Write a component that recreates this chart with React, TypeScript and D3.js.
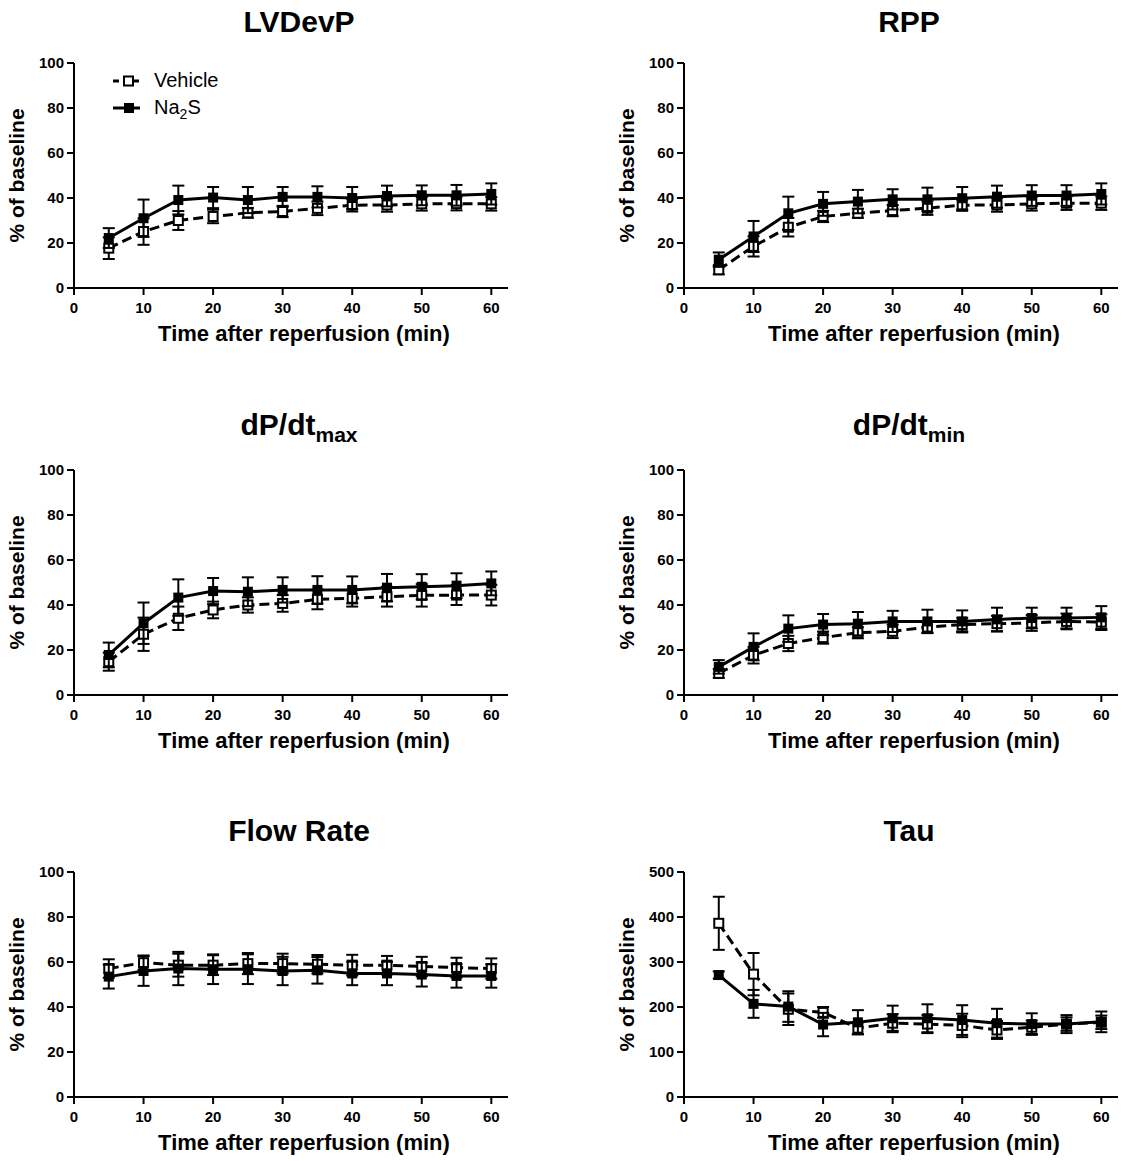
import React from "react";
import * as d3 from "d3";

// time points (min after reperfusion)
const times = [5, 10, 15, 20, 25, 30, 35, 40, 45, 50, 55, 60];
const xTicks = [0, 10, 20, 30, 40, 50, 60];
const pctTicks = [0, 20, 40, 60, 80, 100];
const tauTicks = [0, 100, 200, 300, 400, 500];

// LVDevP
const lvdevpVehicle = [17.7, 25.1, 30, 31.8, 33.4, 34, 35.4, 36.8, 36.9, 37.4, 37.5, 37.4];
const lvdevpVehicleErr = [4.8, 5.9, 4.2, 3, 2.2, 2.5, 3, 2.8, 3, 3, 3, 3];
const lvdevpNa2s = [22.2, 31, 39.1, 40.2, 39.1, 40.5, 40.5, 40, 40.9, 41.2, 41.2, 41.8];
const lvdevpNa2sErr = [4.4, 8.3, 6.4, 4.7, 5.8, 4.4, 4.7, 4.9, 4.6, 4.4, 4.6, 4.7];

// RPP
const rppVehicle = [8.1, 18.5, 27, 31.8, 33.2, 34.4, 35.5, 36.8, 36.9, 37.4, 37.7, 37.7];
const rppVehicleErr = [2, 4.5, 4.1, 2.5, 2, 2.5, 3, 2.5, 3, 3, 3, 3];
const rppNa2s = [12.6, 22.9, 33.2, 37.4, 38.4, 39.4, 39.4, 39.9, 40.6, 41.1, 41.1, 41.8];
const rppNa2sErr = [3.2, 6.9, 7.4, 5.3, 5.2, 4.5, 5.2, 5, 4.9, 4.6, 4.6, 4.7];

// dP/dt max
const dpmaxVehicle = [14.8, 27, 34.1, 37.8, 40, 40.7, 42.5, 43, 43.7, 44.3, 44.4, 44.4];
const dpmaxVehicleErr = [4, 7.4, 5.2, 3.7, 3.4, 3.7, 4.4, 3.7, 4.4, 5, 4.4, 4.6];
const dpmaxNa2s = [17.8, 31.9, 43.3, 46.2, 45.9, 46.7, 46.7, 46.7, 47.7, 48.1, 48.6, 49.6];
const dpmaxNa2sErr = [5.5, 9.2, 8.1, 5.8, 6.4, 5.6, 6.1, 6, 6.1, 5.6, 5.5, 5.3];

// dP/dt min
const dpminVehicle = [9.6, 17.7, 22.9, 25.5, 27.7, 28.3, 30.2, 31.3, 31.7, 32, 32.7, 32.4];
const dpminVehicleErr = [2, 3.7, 3.4, 2.7, 2.5, 3, 2.5, 3, 3.5, 3.5, 3.5, 3.5];
const dpminNa2s = [12.5, 21.4, 29.5, 31.3, 31.7, 32.7, 32.7, 32.7, 33.6, 34.2, 34.2, 34.5];
const dpminNa2sErr = [3, 6, 5.9, 4.7, 5.2, 4.7, 5.2, 4.9, 5.2, 4.6, 4.6, 5];

// Flow rate
const flowVehicle = [57.1, 59.7, 58.6, 58.6, 59.3, 59.3, 59, 58.6, 58.6, 58, 57.5, 57.1];
const flowVehicleErr = [4.1, 3.2, 5.1, 4.4, 4.7, 4.4, 4.1, 4.6, 4.1, 4.3, 4.4, 4.5];
const flowNa2s = [53.5, 56, 57.1, 56.8, 56.8, 56, 56.3, 54.9, 54.9, 54.4, 53.8, 53.8];
const flowNa2sErr = [5.3, 6.6, 7.4, 6.6, 6.6, 6.3, 5.9, 5.2, 5.2, 5.3, 5.2, 5.2];

// Tau
const tauVehicle = [386, 273, 195, 188, 153, 164, 162, 159, 149, 155, 162, 166];
const tauVehicleErr = [59, 47, 35, 12, 13, 20, 20, 26, 20, 15, 15, 15];
const tauNa2s = [271, 207, 201, 161, 166, 175, 175, 171, 164, 162, 162, 167];
const tauNa2sErr = [8, 31, 34, 26, 27, 28, 31, 33, 32, 24, 20, 23];

const FONT = "'Liberation Sans', Arial, Helvetica, sans-serif";
const colX = [74, 684];
const rowTop = [63, 470, 872];
const plotH = 225;
const axisLen = 434;

type Cfg = {
  title: string;
  sub?: string;
  col: number;
  row: number;
  yMax: number;
  yTicks: number[];
  vehicle: number[];
  vehicleErr: number[];
  na2s: number[];
  na2sErr: number[];
  legend?: boolean;
};

const panels: Cfg[] = [
  { title: "LVDevP", col: 0, row: 0, yMax: 100, yTicks: pctTicks, vehicle: lvdevpVehicle, vehicleErr: lvdevpVehicleErr, na2s: lvdevpNa2s, na2sErr: lvdevpNa2sErr, legend: true },
  { title: "RPP", col: 1, row: 0, yMax: 100, yTicks: pctTicks, vehicle: rppVehicle, vehicleErr: rppVehicleErr, na2s: rppNa2s, na2sErr: rppNa2sErr },
  { title: "dP/dt", sub: "max", col: 0, row: 1, yMax: 100, yTicks: pctTicks, vehicle: dpmaxVehicle, vehicleErr: dpmaxVehicleErr, na2s: dpmaxNa2s, na2sErr: dpmaxNa2sErr },
  { title: "dP/dt", sub: "min", col: 1, row: 1, yMax: 100, yTicks: pctTicks, vehicle: dpminVehicle, vehicleErr: dpminVehicleErr, na2s: dpminNa2s, na2sErr: dpminNa2sErr },
  { title: "Flow Rate", col: 0, row: 2, yMax: 100, yTicks: pctTicks, vehicle: flowVehicle, vehicleErr: flowVehicleErr, na2s: flowNa2s, na2sErr: flowNa2sErr },
  { title: "Tau", col: 1, row: 2, yMax: 500, yTicks: tauTicks, vehicle: tauVehicle, vehicleErr: tauVehicleErr, na2s: tauNa2s, na2sErr: tauNa2sErr },
];

const Series = ({ vals, errs, x, y, open }: any) => {
  const line = d3
    .line<number>()
    .x((_, i) => x(times[i]))
    .y((d) => y(d));
  const s = open ? 9 : 10;
  return (
    <g>
      {vals.map((v: number, i: number) => {
        const cx = x(times[i]);
        const hi = y(v + errs[i]);
        const lo = y(v - errs[i]);
        return (
          <g key={i} stroke="#000" strokeWidth={2}>
            <line x1={cx} x2={cx} y1={hi} y2={lo} />
            <line x1={cx - 6} x2={cx + 6} y1={hi} y2={hi} />
            <line x1={cx - 6} x2={cx + 6} y1={lo} y2={lo} />
          </g>
        );
      })}
      <path
        d={line(vals) || ""}
        fill="none"
        stroke="#000"
        strokeWidth={3}
        strokeDasharray={open ? "10,5" : undefined}
      />
      {vals.map((v: number, i: number) => (
        <rect
          key={i}
          x={x(times[i]) - s / 2}
          y={y(v) - s / 2}
          width={s}
          height={s}
          fill={open ? "#fff" : "#000"}
          stroke="#000"
          strokeWidth={open ? 2 : 0}
        />
      ))}
    </g>
  );
};

const Panel = ({ cfg }: { cfg: Cfg }) => {
  const x0 = colX[cfg.col];
  const top = rowTop[cfg.row];
  const bottom = top + plotH;
  const x = d3.scaleLinear().domain([0, 62.4]).range([x0, x0 + axisLen]);
  const y = d3.scaleLinear().domain([0, cfg.yMax]).range([bottom, top]);
  const cxTitle = x0 + 225;

  return (
    <g fontFamily={FONT}>
      {/* title */}
      <text
        x={cxTitle}
        y={cfg.sub ? top - 35 : top - 31}
        textAnchor="middle"
        fontWeight="bold"
        fontSize={30}
      >
        {cfg.title}
        {cfg.sub && (
          <tspan fontSize={21} dy={7}>
            {cfg.sub}
          </tspan>
        )}
      </text>

      {/* axes */}
      <g stroke="#000" strokeWidth={2}>
        <line x1={x0} x2={x0} y1={top} y2={bottom + 1} />
        <line x1={x0 - 1} x2={x0 + axisLen} y1={bottom} y2={bottom} />
        {cfg.yTicks.map((t) => (
          <line key={t} x1={x0 - 7} x2={x0} y1={y(t)} y2={y(t)} />
        ))}
        {xTicks.map((t) => (
          <line key={t} x1={x(t)} x2={x(t)} y1={bottom} y2={bottom + 7} />
        ))}
      </g>
      {cfg.yTicks.map((t) => (
        <text
          key={t}
          x={x0 - 10}
          y={y(t) + 5}
          textAnchor="end"
          fontWeight="bold"
          fontSize={15}
        >
          {t}
        </text>
      ))}
      {xTicks.map((t) => (
        <text
          key={t}
          x={x(t)}
          y={bottom + 25}
          textAnchor="middle"
          fontWeight="bold"
          fontSize={15}
        >
          {t}
        </text>
      ))}

      {/* axis titles */}
      <text
        x={x0 + 230}
        y={bottom + 53}
        textAnchor="middle"
        fontWeight="bold"
        fontSize={22}
      >
        Time after reperfusion (min)
      </text>
      <text
        transform={`translate(${x0 - 50},${(top + bottom) / 2}) rotate(-90)`}
        textAnchor="middle"
        fontWeight="bold"
        fontSize={21}
      >
        % of baseline
      </text>

      <Series vals={cfg.vehicle} errs={cfg.vehicleErr} x={x} y={y} open />
      <Series vals={cfg.na2s} errs={cfg.na2sErr} x={x} y={y} />

      {cfg.legend && (
        <g>
          <line x1={x0 + 39} x2={x0 + 66} y1={top + 18} y2={top + 18} stroke="#000" strokeWidth={3} strokeDasharray="6,4" />
          <rect x={x0 + 50} y={top + 13.5} width={9} height={9} fill="#fff" stroke="#000" strokeWidth={2} />
          <text x={x0 + 80} y={top + 24} fontSize={20}>
            Vehicle
          </text>
          <line x1={x0 + 39} x2={x0 + 66} y1={top + 45} y2={top + 45} stroke="#000" strokeWidth={3} />
          <rect x={x0 + 50} y={top + 40} width={10} height={10} fill="#000" />
          <text x={x0 + 80} y={top + 51} fontSize={20}>
            Na<tspan fontSize={14} dy={5}>2</tspan>
            <tspan dy={-5}>S</tspan>
          </text>
        </g>
      )}
    </g>
  );
};

export default function App() {
  return (
    <svg
      width={1133}
      height={1161}
      style={{ position: "absolute", left: 0, top: 0, background: "#fff" }}
    >
      <rect width={1133} height={1161} fill="#fff" />
      {panels.map((p, i) => (
        <Panel key={i} cfg={p} />
      ))}
    </svg>
  );
}
